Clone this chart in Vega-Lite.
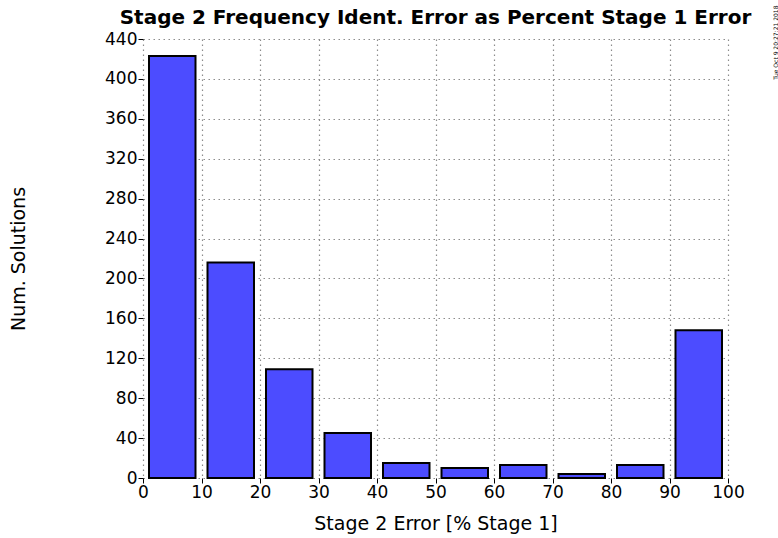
{
  "$schema": "https://vega.github.io/schema/vega-lite/v6.json",
  "width": 585,
  "height": 439,
  "autosize": {"type": "none"},
  "padding": {"left": 143, "top": 39, "right": 50, "bottom": 60},
  "background": "white",
  "title": {
    "text": "Stage 2 Frequency Ident. Error as Percent Stage 1 Error",
    "font": "DejaVu Sans",
    "fontSize": 20,
    "fontWeight": "bold",
    "color": "black",
    "anchor": "middle",
    "frame": "group",
    "offset": 12,
    "dy": 35
  },
  "data": {
    "values": [
      {"lo": 0, "hi": 10, "count": 423},
      {"lo": 10, "hi": 20, "count": 216},
      {"lo": 20, "hi": 30, "count": 109},
      {"lo": 30, "hi": 40, "count": 45},
      {"lo": 40, "hi": 50, "count": 15},
      {"lo": 50, "hi": 60, "count": 10},
      {"lo": 60, "hi": 70, "count": 13},
      {"lo": 70, "hi": 80, "count": 4},
      {"lo": 80, "hi": 90, "count": 13},
      {"lo": 90, "hi": 100, "count": 148}
    ]
  },
  "layer": [
    {
      "mark": {
        "type": "bar",
        "fill": "#4c4cff",
        "stroke": "black",
        "strokeWidth": 2,
        "xOffset": 6,
        "x2Offset": -6
      },
      "encoding": {
        "x": {
          "field": "lo",
          "type": "quantitative",
          "scale": {"domain": [0, 100], "nice": false, "padding": 0},
          "axis": {
            "title": "Stage 2 Error [% Stage 1]",
            "values": [0, 10, 20, 30, 40, 50, 60, 70, 80, 90, 100],
            "titleY": 45,
            "titleBaseline": "middle"
          }
        },
        "x2": {"field": "hi"},
        "y": {
          "field": "count",
          "type": "quantitative",
          "scale": {"domain": [0, 440], "nice": false, "padding": 0},
          "axis": {
            "title": "Num. Solutions",
            "values": [0, 40, 80, 120, 160, 200, 240, 280, 320, 360, 400, 440],
            "titleX": -125,
            "titleY": 219.5,
            "titleAngle": -90,
            "titleAlign": "center",
            "titleBaseline": "middle"
          }
        },
        "y2": {"datum": 0}
      }
    },
    {
      "mark": {"type": "bar", "opacity": 0},
      "encoding": {
        "x": {"field": "lo", "type": "quantitative", "scale": {"domain": [0, 100], "nice": false, "padding": 0}},
        "x2": {"field": "hi"},
        "y": {
          "field": "count",
          "type": "quantitative",
          "scale": {"domain": [0, 440], "nice": false, "padding": 0},
          "axis": {
            "orient": "right",
            "title": "Tue Oct  9 20:27:21 2018",
            "titleFontSize": 6,
            "titleFontWeight": "normal",
            "titleX": 47,
            "titleY": -34,
            "titleAngle": -90,
            "titleAlign": "right",
            "titleBaseline": "middle",
            "labels": false,
            "ticks": false,
            "grid": false,
            "domain": false
          }
        },
        "y2": {"datum": 0}
      }
    }
  ],
  "resolve": {"scale": {"y": "independent"}, "axis": {"y": "independent"}},
  "config": {
    "view": {"stroke": null},
    "axis": {
      "labelFont": "DejaVu Sans",
      "labelFontSize": 17,
      "labelColor": "black",
      "titleFont": "DejaVu Sans",
      "titleFontSize": 19,
      "titleFontWeight": "normal",
      "titleColor": "black",
      "domain": false,
      "grid": true,
      "gridColor": "#8c8c8c",
      "gridDash": [1.5, 3.5],
      "gridWidth": 1.2,
      "gridOpacity": 1,
      "ticks": true,
      "tickColor": "black",
      "tickSize": 5,
      "tickWidth": 1,
      "labelPadding": 1,
      "labelOverlap": false,
      "labelFlush": false
    }
  }
}
